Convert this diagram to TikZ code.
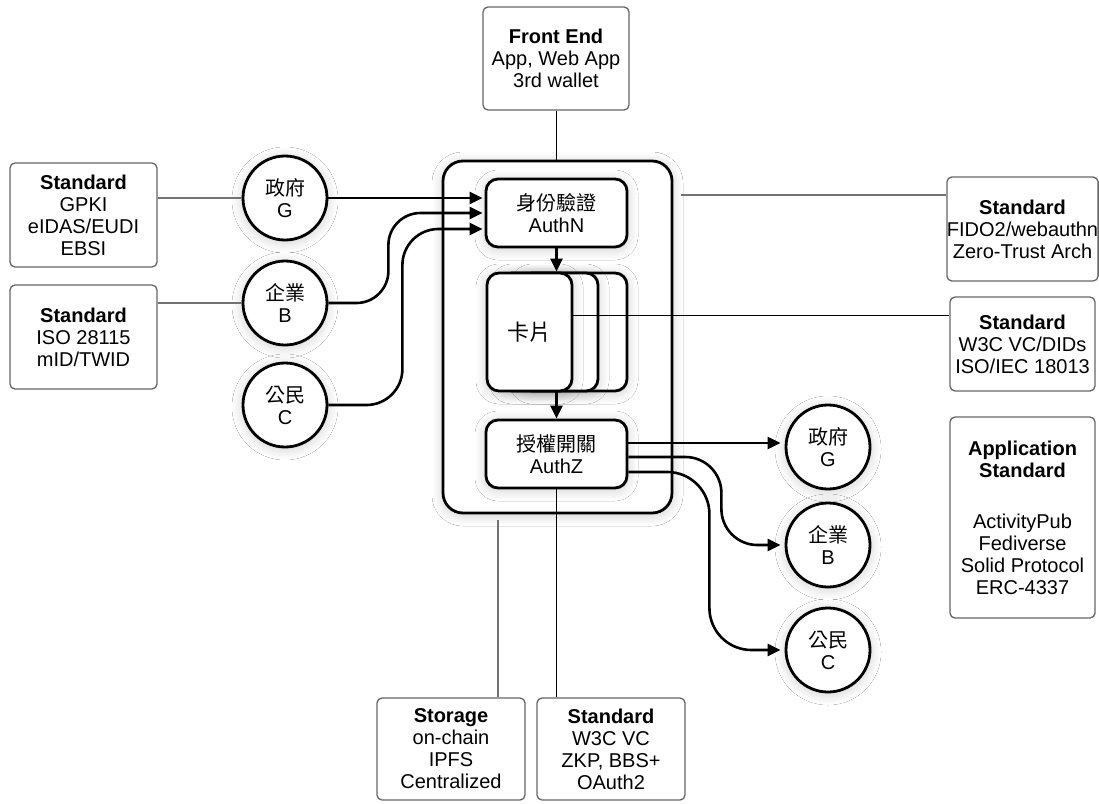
\documentclass[tikz,border=0pt]{standalone}
\usepackage{fontspec}
\setmainfont{Liberation Sans}
\newfontfamily\cjk{Noto Sans CJK TC}
\usetikzlibrary{arrows.meta,calc,shadows.blur}
\begin{document}
\begin{tikzpicture}[x=1pt,y=-1pt,
  every node/.style={font=\fontsize{20}{22}\selectfont},
  glow/.style={blur shadow={shadow xshift=0pt,shadow yshift=-2pt,shadow blur radius=11pt,shadow opacity=20,shadow blur steps=24}},
  infobox/.style={draw=black!60,line width=1.3pt,rounded corners=5pt,fill=white,align=center,inner sep=0pt},
  thickbox/.style={draw=black,line width=2.8pt,rounded corners=12pt,fill=white,align=center,inner sep=0pt,glow},
  actor/.style={circle,draw=black,line width=2.8pt,fill=white,minimum size=84pt,inner sep=0pt,align=center,glow},
  flow/.style={line width=2.6pt,-{Triangle[length=13pt,width=12pt]}},
  thinline/.style={line width=1pt,draw=black},
  greyline/.style={line width=1.6pt,draw=black!55},
]
\useasboundingbox[fill=white] (0,0) rectangle (1099,803);

% info boxes
\node[infobox,minimum width=146pt,minimum height=103pt] (FE) at (556,58.5) {\textbf{Front End}\\App, Web App\\3rd wallet};
\node[infobox,minimum width=147pt,minimum height=104pt] (L1) at (83.5,215) {\textbf{Standard}\\GPKI\\eIDAS/EUDI\\EBSI};
\node[infobox,minimum width=147pt,minimum height=104pt] (L2) at (83.5,337) {\textbf{Standard}\\ISO 28115\\mID/TWID};
\node[infobox,minimum width=145pt,minimum height=104pt] (R1) at (1022.5,229) {\textbf{Standard}\\FIDO2/webauthn\\Zero-Trust Arch};
\node[infobox,minimum width=145pt,minimum height=94pt] (R2) at (1022.5,344) {\textbf{Standard}\\W3C VC/DIDs\\ISO/IEC 18013};
\node[infobox,minimum width=145pt,minimum height=201pt] (R3) at (1022.5,517.5) {\textbf{Application}\\\textbf{Standard}\\[29pt]ActivityPub\\Fediverse\\Solid Protocol\\ERC-4337};
\node[infobox,minimum width=148pt,minimum height=102pt] (B1) at (451,749) {\textbf{Storage}\\on-chain\\IPFS\\Centralized};
\node[infobox,minimum width=148pt,minimum height=102pt] (B2) at (611,749) {\textbf{Standard}\\W3C VC\\ZKP, BBS+\\OAuth2};

% outer container
\node[draw=black,line width=2.8pt,rounded corners=20pt,fill=white,minimum width=229pt,minimum height=352pt,inner sep=0pt,glow] (Outer) at (557.5,337) {};

% inner boxes
\node[thickbox,minimum width=141pt,minimum height=68pt] (AuthN) at (556.5,213) {{\cjk 身份驗證}\\AuthN};
\node[thickbox,minimum width=141pt,minimum height=68pt] (AuthZ) at (556.5,454) {{\cjk 授權開關}\\AuthZ};
\node[thickbox,minimum width=107pt,minimum height=118pt] (card3) at (573.5,332) {};
\node[thickbox,minimum width=98pt,minimum height=118pt] (card2) at (549,332) {};
\node[thickbox,minimum width=85pt,minimum height=118pt,font=\fontsize{22}{26}\selectfont\cjk] (card1) at (529.5,332) {卡片};

% actors
\node[actor] (Lg) at (285,198) {{\cjk 政府}\\G};
\node[actor] (Lb) at (285,303) {{\cjk 企業}\\B};
\node[actor] (Lc) at (285,405) {{\cjk 公民}\\C};
\node[actor] (Rg) at (828,447) {{\cjk 政府}\\G};
\node[actor] (Rb) at (828,545) {{\cjk 企業}\\B};
\node[actor] (Rc) at (828,650) {{\cjk 公民}\\C};

% thin connector lines
\draw[thinline] (FE.south) -- (FE.south |- Outer.north);
\coordinate (f1) at (681,195);
\draw[greyline] (f1) -- (f1 -| R1.west);
\draw[thinline] ([yshift=17pt]card1.east) -- ([yshift=17pt]card1.east -| R2.west);
\coordinate (s1) at (498,520);
\draw[greyline] (s1) -- (s1 |- B1.north);
\draw[thinline] (AuthZ.south) -- (AuthZ.south |- B2.north);
\draw[greyline] (Lg.west -| L1.east) -- (Lg.west);
\draw[greyline] (Lb.west -| L2.east) -- (Lb.west);

% flows in
\draw[flow,shorten >=2pt] (Lg.east) -- (Lg.east -| AuthN.west);
\draw[flow,shorten >=2pt,rounded corners=32pt] (Lb.east) -- ++(60,0) |- (AuthN.west);
\draw[flow,shorten >=2pt,rounded corners=36pt] (Lc.east) -- ++(74,0) |- ([yshift=-16pt]AuthN.west);

% internal flows
\draw[flow] (AuthN.south) -- (AuthN.south |- card1.north);
\draw[flow] (AuthN.south |- card1.south) -- (AuthZ.north);

% flows out
\draw[flow,shorten >=4pt] ([yshift=11pt]AuthZ.east) -- ([yshift=11pt]AuthZ.east -| Rg.west);
\draw[flow,shorten >=4pt,rounded corners=36pt] ([yshift=-3pt]AuthZ.east) -- ++(93,0) |- (Rb.west);
\draw[flow,shorten >=4pt,rounded corners=42pt] ([yshift=-18pt]AuthZ.east) -- ++(81,0) |- (Rc.west);
\end{tikzpicture}
\end{document}
